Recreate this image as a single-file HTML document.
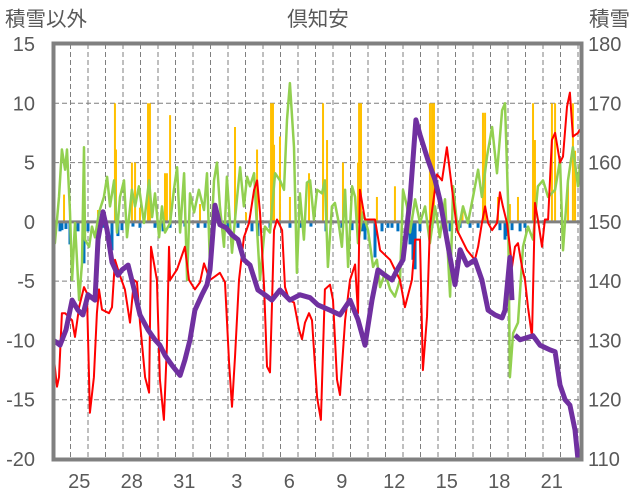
<!DOCTYPE html>
<html><head><meta charset="utf-8">
<style>
html,body{margin:0;padding:0;background:#fff;}
svg{display:block;font-family:"Liberation Sans","Noto Sans CJK JP",sans-serif;}
</style></head>
<body>
<svg id="chart" width="636" height="501" viewBox="0 0 636 501" xmlns="http://www.w3.org/2000/svg">
<text x="5" y="26" font-size="20.5" fill="#595959">積雪以外</text>
<text x="318" y="26" font-size="20.5" fill="#595959" text-anchor="middle">倶知安</text>
<text x="589" y="26" font-size="20.5" fill="#595959">積雪</text>
<g id="grid"></g>
<g id="bars"></g>
<g id="lines"></g>
<g id="axes"></g>
</svg>
<script>
const leftTicks=[15,10,5,0,-5,-10,-15,-20];
const rightTicks=[180,170,160,150,140,130,120,110];
const xTickLabels=["25","28","31","3","6","9","12","15","18","21"];
const xTickDays=[1,4,7,10,13,16,19,22,25,28];
const dayCount=30.2;

const redT=[0.06,0.23,0.34,0.51,0.69,1.09,1.26,1.49,1.77,1.94,2.06,2.11,2.34,2.51,2.63,2.8,3.2,3.37,3.54,3.77,4.11,4.4,4.63,4.8,4.97,5.26,5.49,5.6,5.77,5.94,6.11,6.34,6.51,6.63,6.69,7.09,7.54,7.77,8.11,8.4,8.63,8.97,9.26,9.54,9.83,10.06,10.23,10.4,10.63,10.91,11.2,11.49,11.66,11.83,12.06,12.23,12.4,12.51,12.63,12.8,13.09,13.26,13.49,13.77,14.06,14.23,14.4,14.63,14.8,15.09,15.31,15.54,15.83,16.0,16.23,16.4,16.69,16.97,17.26,17.43,17.54,17.83,18.4,18.69,19.26,19.83,20.11,20.51,20.69,20.97,21.14,21.37,21.54,21.94,22.23,22.51,22.69,23.09,23.66,24.11,24.29,24.51,24.69,24.86,25.09,25.37,25.54,25.71,25.94,26.11,26.23,26.4,26.57,26.8,26.97,27.14,27.37,27.54,27.71,27.94,28.11,28.29,28.51,28.69,28.97,29.14,29.37,29.54,29.71,30.0,30.11];
const redV=[-11.6,-13.9,-13.1,-7.7,-7.7,-8.3,-9.7,-7.2,-5.5,-6.0,-13.3,-16.1,-13.1,-7.7,-5.7,-7.4,-7.7,-7.2,-3.2,-4.3,-5.7,-8.5,-4.9,-5.1,-8.5,-13.1,-14.4,-2.1,-3.5,-4.9,-13.3,-16.7,-10.5,-2.1,-4.9,-4.0,-2.1,-4.9,-5.7,-5.1,-3.5,-4.9,-4.6,-4.3,-5.1,-11.9,-15.6,-11.4,-4.9,-1.3,-0.1,2.7,3.5,0.8,-5.5,-12.2,-12.7,-7.2,-0.7,0.2,-0.7,-5.5,-6.6,-6.8,-9.1,-9.9,-8.5,-7.7,-8.3,-14.8,-16.7,-5.7,-5.3,-6.6,-13.3,-14.6,-8.3,-4.9,-3.6,-7.7,2.7,0.2,0.2,-2.4,-3.2,-4.9,-7.2,-4.9,-1.5,-1.5,-12.5,-8.0,-0.4,4.0,3.5,6.3,4.1,-0.7,-2.4,-3.2,-2.1,-0.1,1.3,-0.1,-0.7,-0.1,2.5,1.3,-0.1,-2.1,-3.8,-2.1,-1.8,-3.8,-4.9,-7.2,-9.7,1.6,0.2,-2.1,0.2,0.2,6.9,7.5,5.0,5.5,9.7,10.9,7.2,7.5,7.8];

const greenT=[0.0,0.11,0.34,0.51,0.69,0.8,0.97,1.09,1.26,1.49,1.66,1.77,1.83,2.06,2.23,2.4,2.63,2.91,3.09,3.26,3.49,3.66,3.83,4.06,4.23,4.51,4.69,4.91,5.2,5.49,5.66,5.83,6.06,6.23,6.4,6.69,6.91,7.09,7.26,7.49,7.66,7.83,8.06,8.34,8.63,8.8,8.97,9.2,9.37,9.54,9.77,9.94,10.23,10.51,10.69,10.91,11.09,11.26,11.49,11.66,11.83,12.11,12.4,12.69,12.97,13.2,13.37,13.54,13.77,13.94,14.11,14.34,14.51,14.69,14.91,15.09,15.37,15.54,15.71,15.94,16.11,16.29,16.51,16.69,16.86,17.09,17.26,17.43,17.71,18.0,18.29,18.51,18.69,18.97,19.26,19.54,19.83,20.0,20.23,20.4,20.69,20.97,21.26,21.54,21.83,22.11,22.4,22.69,22.86,23.14,23.43,23.71,24.0,24.29,24.51,24.8,25.09,25.37,25.66,25.83,26.0,26.11,26.29,26.57,26.86,27.14,27.43,27.71,28.0,28.29,28.69,28.97,29.14,29.43,29.71,30.0,30.2];
const greenV=[2.7,-1.8,2.1,6.1,4.4,6.1,0.8,-4.9,-0.1,-6.6,-3.5,6.3,-1.5,-2.1,-0.4,-1.3,0.8,2.1,3.8,1.3,3.5,-0.9,2.1,3.5,-1.3,2.7,1.3,3.0,-0.1,3.5,0.4,2.4,-1.3,1.3,-0.9,-0.1,2.7,4.6,-0.9,4.1,-4.9,2.4,0.8,2.7,1.0,4.1,-3.8,3.5,5.0,1.3,-2.1,3.8,-2.6,1.9,4.6,1.3,3.8,3.0,4.1,-0.7,-4.9,-0.4,-0.9,4.1,3.5,2.7,8.6,11.7,6.3,-4.3,2.4,-1.5,3.3,3.5,0.2,2.7,2.4,3.5,-3.8,1.3,1.6,0.2,-2.1,2.7,-3.8,3.0,2.1,-1.8,0.8,-0.7,-3.8,-3.2,-5.5,-4.3,-5.7,-6.3,-4.9,2.7,1.3,-0.9,1.9,-0.1,1.3,-1.8,1.3,-1.3,1.9,-6.3,3.0,-0.9,1.3,-0.1,2.1,4.4,2.1,5.5,8.0,4.1,9.4,10.0,1.9,-13.1,-9.4,-8.5,-2.1,-0.4,-1.5,3.0,3.5,2.1,2.7,5.2,-2.4,3.5,6.3,3.0,6.1];

const snowT=[0,0.4,0.74,1.09,1.43,1.71,2.0,2.4,2.57,2.86,3.09,3.37,3.71,3.94,4.29,4.57,4.97,5.43,5.83,6.11,6.4,6.8,7.26,7.54,7.83,8.11,8.51,8.8,8.97,9.26,9.54,9.89,10.23,10.57,10.91,11.26,11.71,12.11,12.51,12.97,13.54,14.11,14.69,15.14,15.83,16.4,16.97,17.43,17.83,18.23,18.57,18.97,19.37,19.66,20.0,20.4,20.74,20.97,21.43,21.83,22.11,22.51,22.97,23.26,23.66,24.11,24.51,24.86,25.26,25.66,25.83,26.11,26.23,26.3,26.4,26.69,27.43,27.83,28.4,28.69,28.97,29.26,29.54,29.83,30.0];
const snowV=[130.1,129.2,131.8,136.8,135.1,134.3,137.7,136.8,147.0,151.7,148.6,143.2,141.0,141.9,142.7,139.4,134.3,131.8,130.1,129.2,127.5,125.8,124.1,126.7,130.1,135.1,137.7,139.4,141.9,152.8,149.5,149.0,147.8,147.0,143.6,142.7,138.5,137.7,136.8,138.5,136.8,137.7,137.2,136.0,135.1,134.3,136.8,133.5,129.2,136.8,141.9,141.0,140.2,141.9,143.6,153.7,167.2,164.7,160.4,157.1,153.7,147.0,139.4,145.3,142.7,143.6,140.2,135.1,134.3,133.8,135.1,144.0,136.8,null,130.9,130.1,130.8,129.2,128.4,128.1,122.5,120.0,119.1,114.9,109.9];

const snowfallT=[0.63,2.57,3.54,3.6,4.51,4.69,4.97,5.43,5.54,6.4,6.51,6.69,8.4,10.4,11.03,11.66,12.46,12.57,12.63,12.97,13.54,14.63,15.43,15.66,16.57,17.43,17.49,17.6,18.51,19.54,21.54,21.66,21.77,23.4,24.57,24.69,25.43,26.11,26.57,27.43,27.54,28.51,28.69,29.43,29.71,29.83];
const snowfallV=[2.3,1.0,10,6.1,5.0,5.0,1.2,10,10,4.1,4.1,9.0,1.5,8.0,0.8,6.1,10,10,6.5,7.2,2.1,4.1,10,6.9,5.0,5.0,10,10,2.1,3.0,10,10,10,1.0,9.2,9.2,2.1,1.5,2.1,10,6.9,10,10,3.3,10,6];

const meltT=[0.4,0.51,0.74,0.97,1.43,1.77,2.0,2.69,2.91,3.37,3.71,3.94,4.57,4.97,5.83,6.29,6.69,7.54,8.29,8.69,10.0,10.57,11.37,11.71,12.4,13.54,14.11,14.74,15.6,16.51,17.09,17.66,17.83,18.4,18.8,19.14,19.37,19.71,20.4,20.57,20.69,20.97,21.66,22.69,23.26,23.83,24.29,25.54,25.83,26.0,26.23,26.69,26.97];
const meltV=[-0.8,-0.7,-0.6,-1.9,-0.8,-3.5,-0.8,-0.8,-0.5,-2.4,-1.2,-0.7,-0.4,-0.5,-0.5,-0.8,-0.5,-0.4,-0.5,-0.5,-0.5,-0.5,-0.8,-1.2,-0.5,-0.5,-0.5,-0.4,-0.8,-0.5,-0.7,-0.8,-1.5,-3.0,-0.8,-0.5,-0.5,-0.8,-1.9,-3.2,-4.0,-0.8,-0.5,-0.8,-0.5,-0.5,-0.5,-0.7,-1.5,-1.2,-0.7,-0.8,-0.5];

const NS="http://www.w3.org/2000/svg";
const PL=54,PR=581,PT=44,PB=459;
const xs=t=>PL-1+t*17.5;
const yL=v=>PT+(15-v)*(PB-PT)/35;
const yR=v=>PT+(180-v)*(PB-PT)/70;
function mk(tag,attrs,parent){const e=document.createElementNS(NS,tag);for(const k in attrs)e.setAttribute(k,attrs[k]);parent.appendChild(e);return e;}
const grid=document.getElementById('grid'),bars=document.getElementById('bars'),lines=document.getElementById('lines'),axes=document.getElementById('axes');

leftTicks.forEach(v=>{
  if(v!==0&&v!==15&&v!==-20){const l=mk('line',{x1:PL,x2:PR,y1:yL(v),y2:yL(v),stroke:'#7f7f7f','stroke-width':1,'stroke-dasharray':'5,3'},grid);
  
  }
  const t=mk('text',{x:35,y:yL(v)+7,'font-size':20,fill:'#595959','text-anchor':'end'},axes);t.textContent=v;
  
  
});
rightTicks.forEach(v=>{
  const t=mk('text',{x:588,y:yR(v)+7,'font-size':20,fill:'#595959'},axes);t.textContent=v;
  
  
});
for(let d=1;d<dayCount;d++){
  const l=mk('line',{x1:xs(d),x2:xs(d),y1:PT,y2:PB,stroke:'#7f7f7f','stroke-width':1,'stroke-dasharray':'5,3'},grid);
  
  
}
xTickLabels.forEach((s,i)=>{
  const t=mk('text',{x:xs(xTickDays[i]+0.5),y:488,'font-size':20,fill:'#595959','text-anchor':'middle'},axes);t.textContent=s;
  
  
});
snowfallT.forEach((t,i)=>{
  const r=mk('rect',{x:xs(t)-1,y:yL(snowfallV[i]),width:2,height:yL(0)-yL(snowfallV[i]),fill:'#FFC000'},bars);
  
  
});
meltT.forEach((t,i)=>{
  const r=mk('rect',{x:xs(t)-1.5,y:yL(0),width:3,height:yL(meltV[i])-yL(0),fill:'#0070C0'},bars);
  
  
});
const zl=mk('line',{x1:PL,x2:PR,y1:yL(0),y2:yL(0),stroke:'#808080','stroke-width':3},bars);


function path(T,V,yf){let d='',pen=false;T.forEach((t,i)=>{if(V[i]===null){pen=false;return;}d+=(pen?'L':'M')+xs(t).toFixed(1)+','+yf(V[i]).toFixed(1);pen=true;});return d;}
const g=mk('path',{d:path(greenT,greenV,yL),fill:'none',stroke:'#92D050','stroke-width':2.5,'stroke-linejoin':'round'},lines);


const r=mk('path',{d:path(redT,redV,yL),fill:'none',stroke:'#FF0000','stroke-width':2,'stroke-linejoin':'round'},lines);


const p=mk('path',{d:path(snowT,snowV,yR),fill:'none',stroke:'#7030A0','stroke-width':5,'stroke-linejoin':'round'},lines);


const b=mk('rect',{x:PL-0.5,y:PT-0.5,width:PR-PL+1,height:PB-PT+1,fill:'none',stroke:'#808080','stroke-width':4},axes);


</script>
</body></html>
